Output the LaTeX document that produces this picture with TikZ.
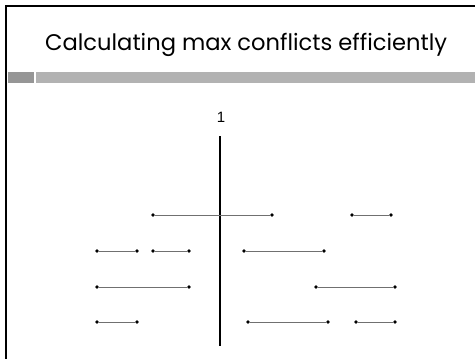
\documentclass[tikz,border=0pt]{standalone}
\usepackage{fontspec}
\setmainfont{Poppins}
\newfontfamily\labelfont{Liberation Sans}
\usepackage{xcolor}
\usetikzlibrary{positioning}

\definecolor{barlight}{HTML}{B2B2B2}
\definecolor{bardark}{HTML}{969696}
\definecolor{seggray}{HTML}{707070}

\begin{document}
\begin{tikzpicture}[
  x=1pt, y=-1pt,
  endpt/.style={circle, fill=black, inner sep=0pt, minimum size=3.6pt},
  seg/.style={draw=seggray, line width=1pt},
  sweep/.style={draw=black, line width=2.2pt}
]
\useasboundingbox (0,0) rectangle (475,359);
% slide frame and header bar
\draw[line width=2pt] (6,359) -- (6,6) -- (475,6);
\fill[bardark]  (8,72) rectangle (34,83);
\fill[barlight] (36,72) rectangle (475,83);
\node[anchor=base west, font=\fontsize{22.6}{26}\selectfont, inner sep=0pt] (title) at (45,50)
  {Calculating max conflicts efficiently};
% sweep line
\node[font=\labelfont\fontsize{15}{17}\selectfont, inner sep=0pt] (lbl) at (221,117) {1};
\coordinate (top) at (220,136);
\coordinate (bot) at (220,346);
\draw[sweep] (top) -- (bot);
% intervals
\node[endpt] (a1) at (153,215) {};  \node[endpt] (a2) at (272,215) {};
\node[endpt] (b1) at (352,215) {};  \node[endpt] (b2) at (391,215) {};
\node[endpt] (c1) at (97,251) {};   \node[endpt] (c2) at (137,251) {};
\node[endpt] (d1) at (153,251) {};  \node[endpt] (d2) at (189,251) {};
\node[endpt] (e1) at (244,251) {};  \node[endpt] (e2) at (324,251) {};
\node[endpt] (f1) at (97,287) {};   \node[endpt] (f2) at (189,287) {};
\node[endpt] (g1) at (316,287) {};  \node[endpt] (g2) at (395,287) {};
\node[endpt] (h1) at (97,322) {};   \node[endpt] (h2) at (137,322) {};
\node[endpt] (i1) at (248,322) {};  \node[endpt] (i2) at (328,322) {};
\node[endpt] (j1) at (356,322) {};  \node[endpt] (j2) at (395,322) {};
\foreach \s in {a,b,c,d,e,f,g,h,i,j}
  \draw[seg] (\s1) -- (\s2);
\end{tikzpicture}
\end{document}
